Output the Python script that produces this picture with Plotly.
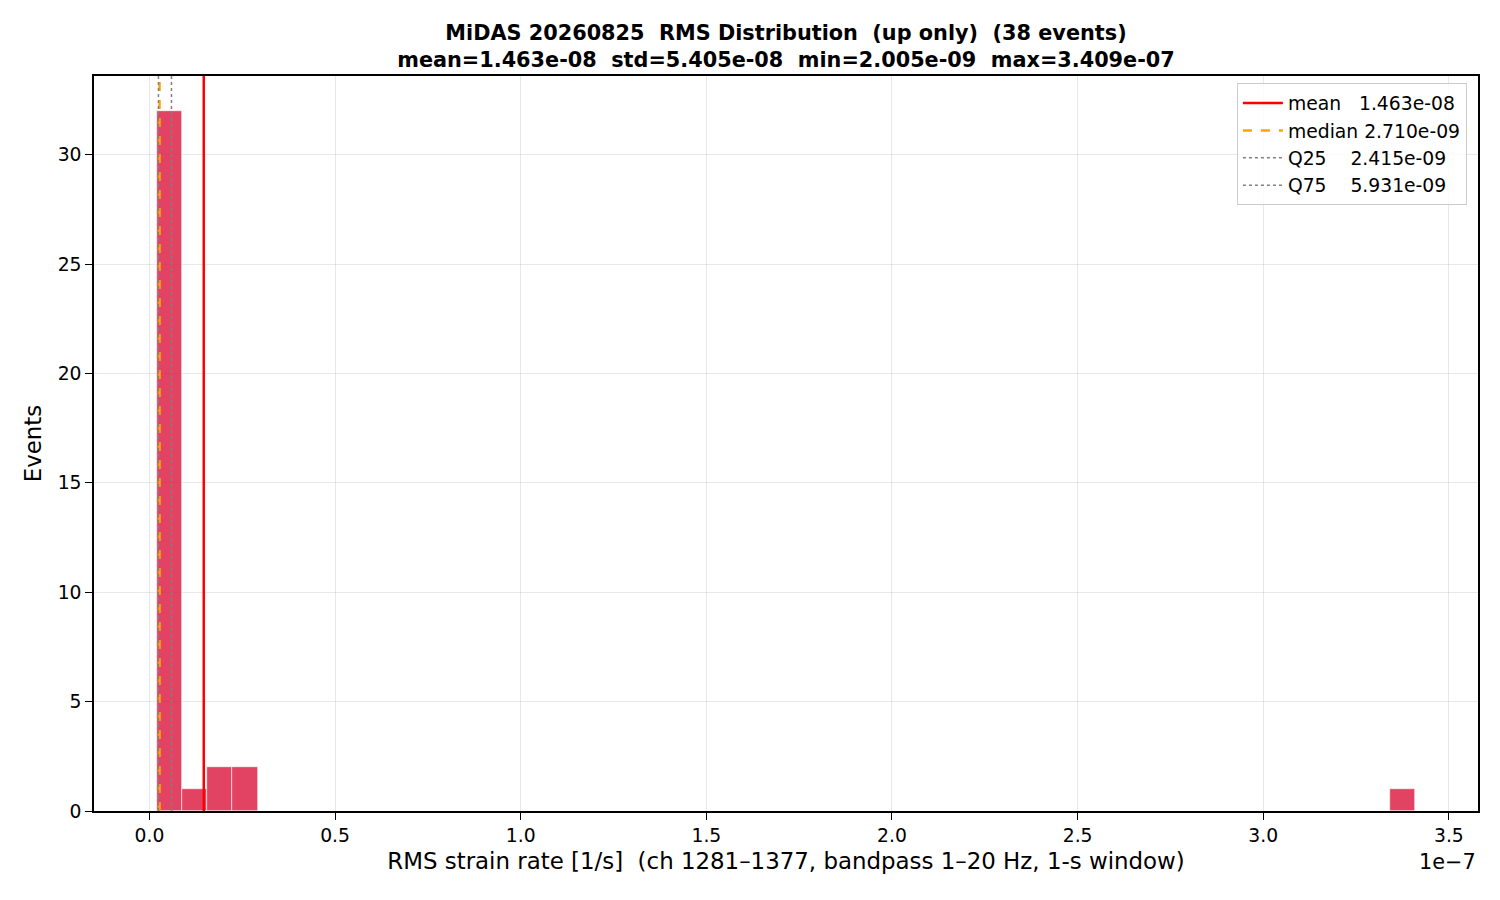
import plotly.graph_objects as go

# histogram summary (50 bins between min and max)
RMS_MIN = 2.005e-09
RMS_MAX = 3.409e-07
N_BINS = 50
bin_index = [0, 1, 2, 3, 49]
bin_counts = [32, 1, 2, 2, 1]

stat_names = ["mean   ", "median ", "Q25    ", "Q75    "]
stat_values = [1.463e-08, 2.710e-09, 2.415e-09, 5.931e-09]
stat_colors = ["red", "orange", "gray", "gray"]
stat_dash = ["solid", "dash", "dot", "dot"]
stat_width = [2.5, 2.5, 1.5, 1.5]

STD = 5.405e-08
N_EVENTS = 38

x_ticks = [0.0, 0.5, 1.0, 1.5, 2.0, 2.5, 3.0, 3.5]
y_ticks = [0, 5, 10, 15, 20, 25, 30]

FONT = "DejaVu Sans"
W, H = 1492, 892  # page adds an 8px body margin

width = (RMS_MAX - RMS_MIN) / N_BINS
centers = [RMS_MIN + (i + 0.5) * width for i in bin_index]
y_top = max(bin_counts) * 1.05
pad = (RMS_MAX - RMS_MIN) * 0.05

fig = go.Figure()
fig.add_trace(go.Bar(
    x=centers, y=bin_counts, width=[width] * len(centers),
    marker={"color": "rgba(220,20,60,0.8)", "line": {"color": "white", "width": 0.6}},
    showlegend=False,
))
for name, val, col, dash, lw in zip(stat_names, stat_values, stat_colors, stat_dash, stat_width):
    fig.add_trace(go.Scatter(
        x=[val, val], y=[0, y_top], mode="lines",
        line={"color": col, "dash": dash, "width": lw},
        name=f"{name}{val:.3e}",
    ))

title = (f"<b>MiDAS 20260825  RMS Distribution  (up only)  ({N_EVENTS} events)</b><br>"
         f"<b>mean={stat_values[0]:.3e}  std={STD:.3e}  min={RMS_MIN:.3e}  max={RMS_MAX:.3e}</b>")

fig.update_layout(
    width=W, height=H,
    paper_bgcolor="white", plot_bgcolor="white",
    font={"family": FONT, "size": 18.75, "color": "black"},
    margin={"l": 86, "r": 22, "t": 68, "b": 89},
    title={"text": title, "x": 778 / W, "xanchor": "center",
           "y": 1 - 32 / H, "yanchor": "top", "font": {"size": 20.8}},
    bargap=0,
    legend={"x": 0.992, "y": 0.99, "xanchor": "right", "yanchor": "top",
            "bgcolor": "rgba(255,255,255,0.8)", "bordercolor": "#cccccc", "borderwidth": 1,
            "font": {"size": 18.75}, "tracegroupgap": 0, "itemwidth": 40},
    annotations=[{"text": "1e\u22127", "xref": "paper", "yref": "paper", "x": 1.0, "y": -0.05,
                  "xanchor": "right", "yanchor": "top", "showarrow": False, "font": {"size": 20.8}}],
)
fig.update_xaxes(
    range=[RMS_MIN - pad, RMS_MAX + pad],
    tickvals=[t * 1e-7 for t in x_ticks], ticktext=[f"{t:.1f}" for t in x_ticks],
    ticks="outside", ticklen=7, tickcolor="black",
    showline=True, linecolor="black", linewidth=1.5, mirror=True,
    showgrid=True, gridcolor="rgba(0,0,0,0.09)", zeroline=False,
    title={"text": "RMS strain rate [1/s]  (ch 1281\u20131377, bandpass 1\u201320 Hz, 1-s window)",
           "font": {"size": 22.9}, "standoff": 8},
)
fig.update_yaxes(
    range=[0, y_top], tickvals=y_ticks,
    ticks="outside", ticklen=7, tickcolor="black",
    showline=True, linecolor="black", linewidth=1.5, mirror=True,
    showgrid=True, gridcolor="rgba(0,0,0,0.09)", zeroline=False,
    title={"text": "Events", "font": {"size": 22.9}, "standoff": 10},
)

fig.write_html("out.html")
